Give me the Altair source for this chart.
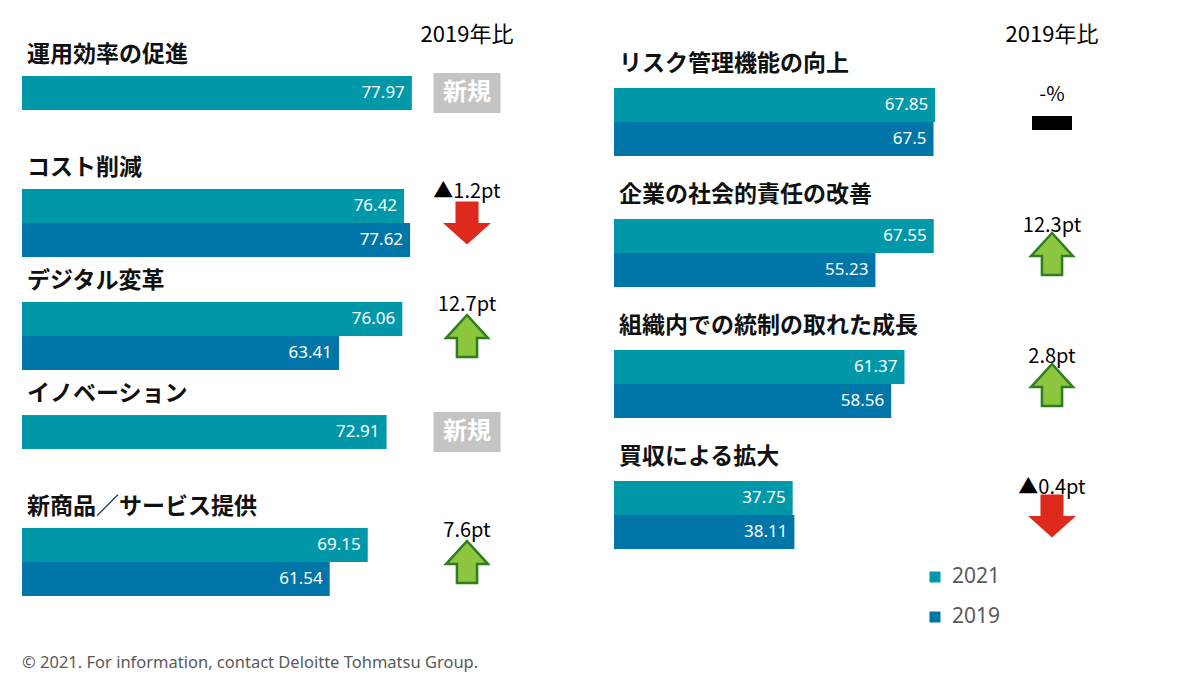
import altair as alt
import pandas as pd

YEARS = ["2021", "2019"]
COLORS = ["#0098A8", "#0076A8"]

LEFT_CATS = ["運用効率の促進", "コスト削減", "デジタル変革", "イノベーション", "新商品／サービス提供"]
LEFT_2021 = [77.97, 76.42, 76.06, 72.91, 69.15]
LEFT_2019 = [None, 77.62, 63.41, None, 61.54]
LEFT_CHANGE = ["", "▲1.2pt", "12.7pt", "", "7.6pt"]
LEFT_TREND = ["new", "down", "up", "new", "up"]

RIGHT_CATS = ["リスク管理機能の向上", "企業の社会的責任の改善", "組織内での統制の取れた成長", "買収による拡大"]
RIGHT_2021 = [67.85, 67.55, 61.37, 37.75]
RIGHT_2019 = [67.5, 55.23, 58.56, 38.11]
RIGHT_CHANGE = ["-%", "12.3pt", "2.8pt", "▲0.4pt"]
RIGHT_TREND = ["flat", "up", "up", "down"]

HEADER = "2019年比"
NEW_LABEL = "新規"
FOOTER = "© 2021. For information, contact Deloitte Tohmatsu Group."

JP = "Noto Sans CJK JP"
LAT = "Noto Sans"

UP_PATH = "M0,-1 L1,0.1 L0.48,0.1 L0.48,1 L-0.48,1 L-0.48,0.1 L-1,0.1 Z"
DOWN_PATH = "M-0.48,-0.9 L0.48,-0.9 L0.48,0 L1,0 L0,0.9 L-1,0 L-0.48,0 Z"
BOX_PATH = "M-1,-0.6 L1,-0.6 L1,0.6 L-1,0.6 Z"
FLAT_PATH = "M-1,-0.35 L1,-0.35 L1,0.35 L-1,0.35 Z"


def panel(cats, v21, v19, change, trend, xmax, width, y_range, pad_inner,
          label_dy, change_dy, ann_x, footer=False, legend=False):
    rows = []
    for c, a, b in zip(cats, v21, v19):
        rows.append({"cat": c, "year": "2021", "value": a, "label": f"{a:g}"})
        if b is not None:
            rows.append({"cat": c, "year": "2019", "value": b, "label": f"{b:g}"})
    bars_df = pd.DataFrame(rows)
    ann_df = pd.DataFrame({"cat": cats, "change": change, "trend": trend,
                           "year": ["2021"] * len(cats)})

    y = alt.Y("cat:N", sort=cats,
              scale=alt.Scale(range=y_range, paddingInner=pad_inner, paddingOuter=0),
              axis=None)
    yoff = alt.YOffset("year:N", sort=YEARS, scale=alt.Scale(domain=YEARS))
    x = alt.X("value:Q", scale=alt.Scale(domain=[0, xmax]), axis=None)
    color = alt.Color("year:N", scale=alt.Scale(domain=YEARS, range=COLORS), legend=None)

    bars = alt.Chart(bars_df).mark_bar().encode(x=x, y=y, yOffset=yoff, color=color)
    vals = alt.Chart(bars_df).mark_text(
        align="right", baseline="middle", dx=-7, color="white", fontSize=17, font=LAT
    ).encode(x=x, y=y, yOffset=yoff, text="label:N")
    labels = alt.Chart(ann_df).mark_text(
        align="left", baseline="middle", dy=label_dy, fontSize=23, fontWeight="bold",
        font=JP, color="#111111"
    ).encode(x=alt.value(5), y=y, text="cat:N")

    up = alt.Chart(ann_df).transform_filter("datum.trend == 'up'").mark_point(
        shape=UP_PATH, filled=True, fill="#8CC63F", stroke="#2E7D1F", strokeWidth=2.5,
        size=1764, opacity=1
    ).encode(x=alt.value(ann_x), y=y)
    down = alt.Chart(ann_df).transform_filter("datum.trend == 'down'").mark_point(
        shape=DOWN_PATH, filled=True, fill="#DE2A1D", size=2304, opacity=1
    ).encode(x=alt.value(ann_x), y=y)
    flat = alt.Chart(ann_df).transform_filter("datum.trend == 'flat'").mark_point(
        shape=FLAT_PATH, filled=True, fill="#000000", size=1600, opacity=1
    ).encode(x=alt.value(ann_x), y=y)
    box = alt.Chart(ann_df).transform_filter("datum.trend == 'new'").mark_point(
        shape=BOX_PATH, filled=True, fill="#C4C4C4", size=4489, opacity=1
    ).encode(x=alt.value(ann_x), y=y, yOffset=yoff)
    box_txt = alt.Chart(ann_df).transform_filter("datum.trend == 'new'").mark_text(
        text=NEW_LABEL, fontSize=24, fontWeight="bold", font=JP, color="white",
        baseline="middle"
    ).encode(x=alt.value(ann_x), y=y, yOffset=yoff)
    chg = alt.Chart(ann_df).transform_filter("datum.change != ''").mark_text(
        fontSize=20, font=JP, color="#000000", baseline="middle", dy=change_dy
    ).encode(x=alt.value(ann_x), y=y, text="change:N")

    header = alt.Chart(pd.DataFrame({"t": [HEADER]})).mark_text(
        fontSize=22, font=JP, color="#000000", baseline="middle"
    ).encode(text="t:N", x=alt.value(ann_x), y=alt.value(15))

    layers = [bars, vals, labels, up, down, flat, box, box_txt, chg, header]
    if footer:
        layers.append(alt.Chart(pd.DataFrame({"t": [FOOTER]})).mark_text(
            fontSize=16.5, font=LAT, color="#595959", align="left", baseline="middle"
        ).encode(text="t:N", x=alt.value(0), y=alt.value(643)))
    main = alt.layer(*layers)

    if legend:
        leg_df = pd.DataFrame({"year": YEARS})
        ly = alt.Y("year:N", sort=YEARS,
                   scale=alt.Scale(type="point", domain=YEARS, range=[557, 597], padding=0),
                   axis=None)
        sq = alt.Chart(leg_df).mark_point(shape="square", filled=True, size=121, opacity=1).encode(
            x=alt.value(321), y=ly, color=color)
        lt = alt.Chart(leg_df).mark_text(
            align="left", baseline="middle", fontSize=21, font=LAT, color="#595959"
        ).encode(x=alt.value(338), y=ly, text="year:N")
        out = alt.layer(main, alt.layer(sq, lt)).resolve_scale(y="independent")
    else:
        out = main
    return out.properties(width=width, height=645)


left = panel(LEFT_CATS, LEFT_2021, LEFT_2019, LEFT_CHANGE, LEFT_TREND,
             xmax=100, width=500, y_range=[56, 576], pad_inner=0.398,
             label_dy=-55, change_dy=-31, ann_x=445, footer=True)
right = panel(RIGHT_CATS, RIGHT_2021, RIGHT_2019, RIGHT_CHANGE, RIGHT_TREND,
              xmax=105, width=497, y_range=[68, 531], pad_inner=0.4656,
              label_dy=-59, change_dy=-28, ann_x=438, legend=True)

chart = alt.hconcat(left, right, spacing=92).resolve_scale(
    x="independent", y="independent"
).properties(
    padding={"left": 14, "top": 12, "right": 5, "bottom": 0},
    background="white",
).configure_view(strokeWidth=0, stroke="transparent")

chart.save("out.html", embed_options={"renderer": "svg", "actions": False})
